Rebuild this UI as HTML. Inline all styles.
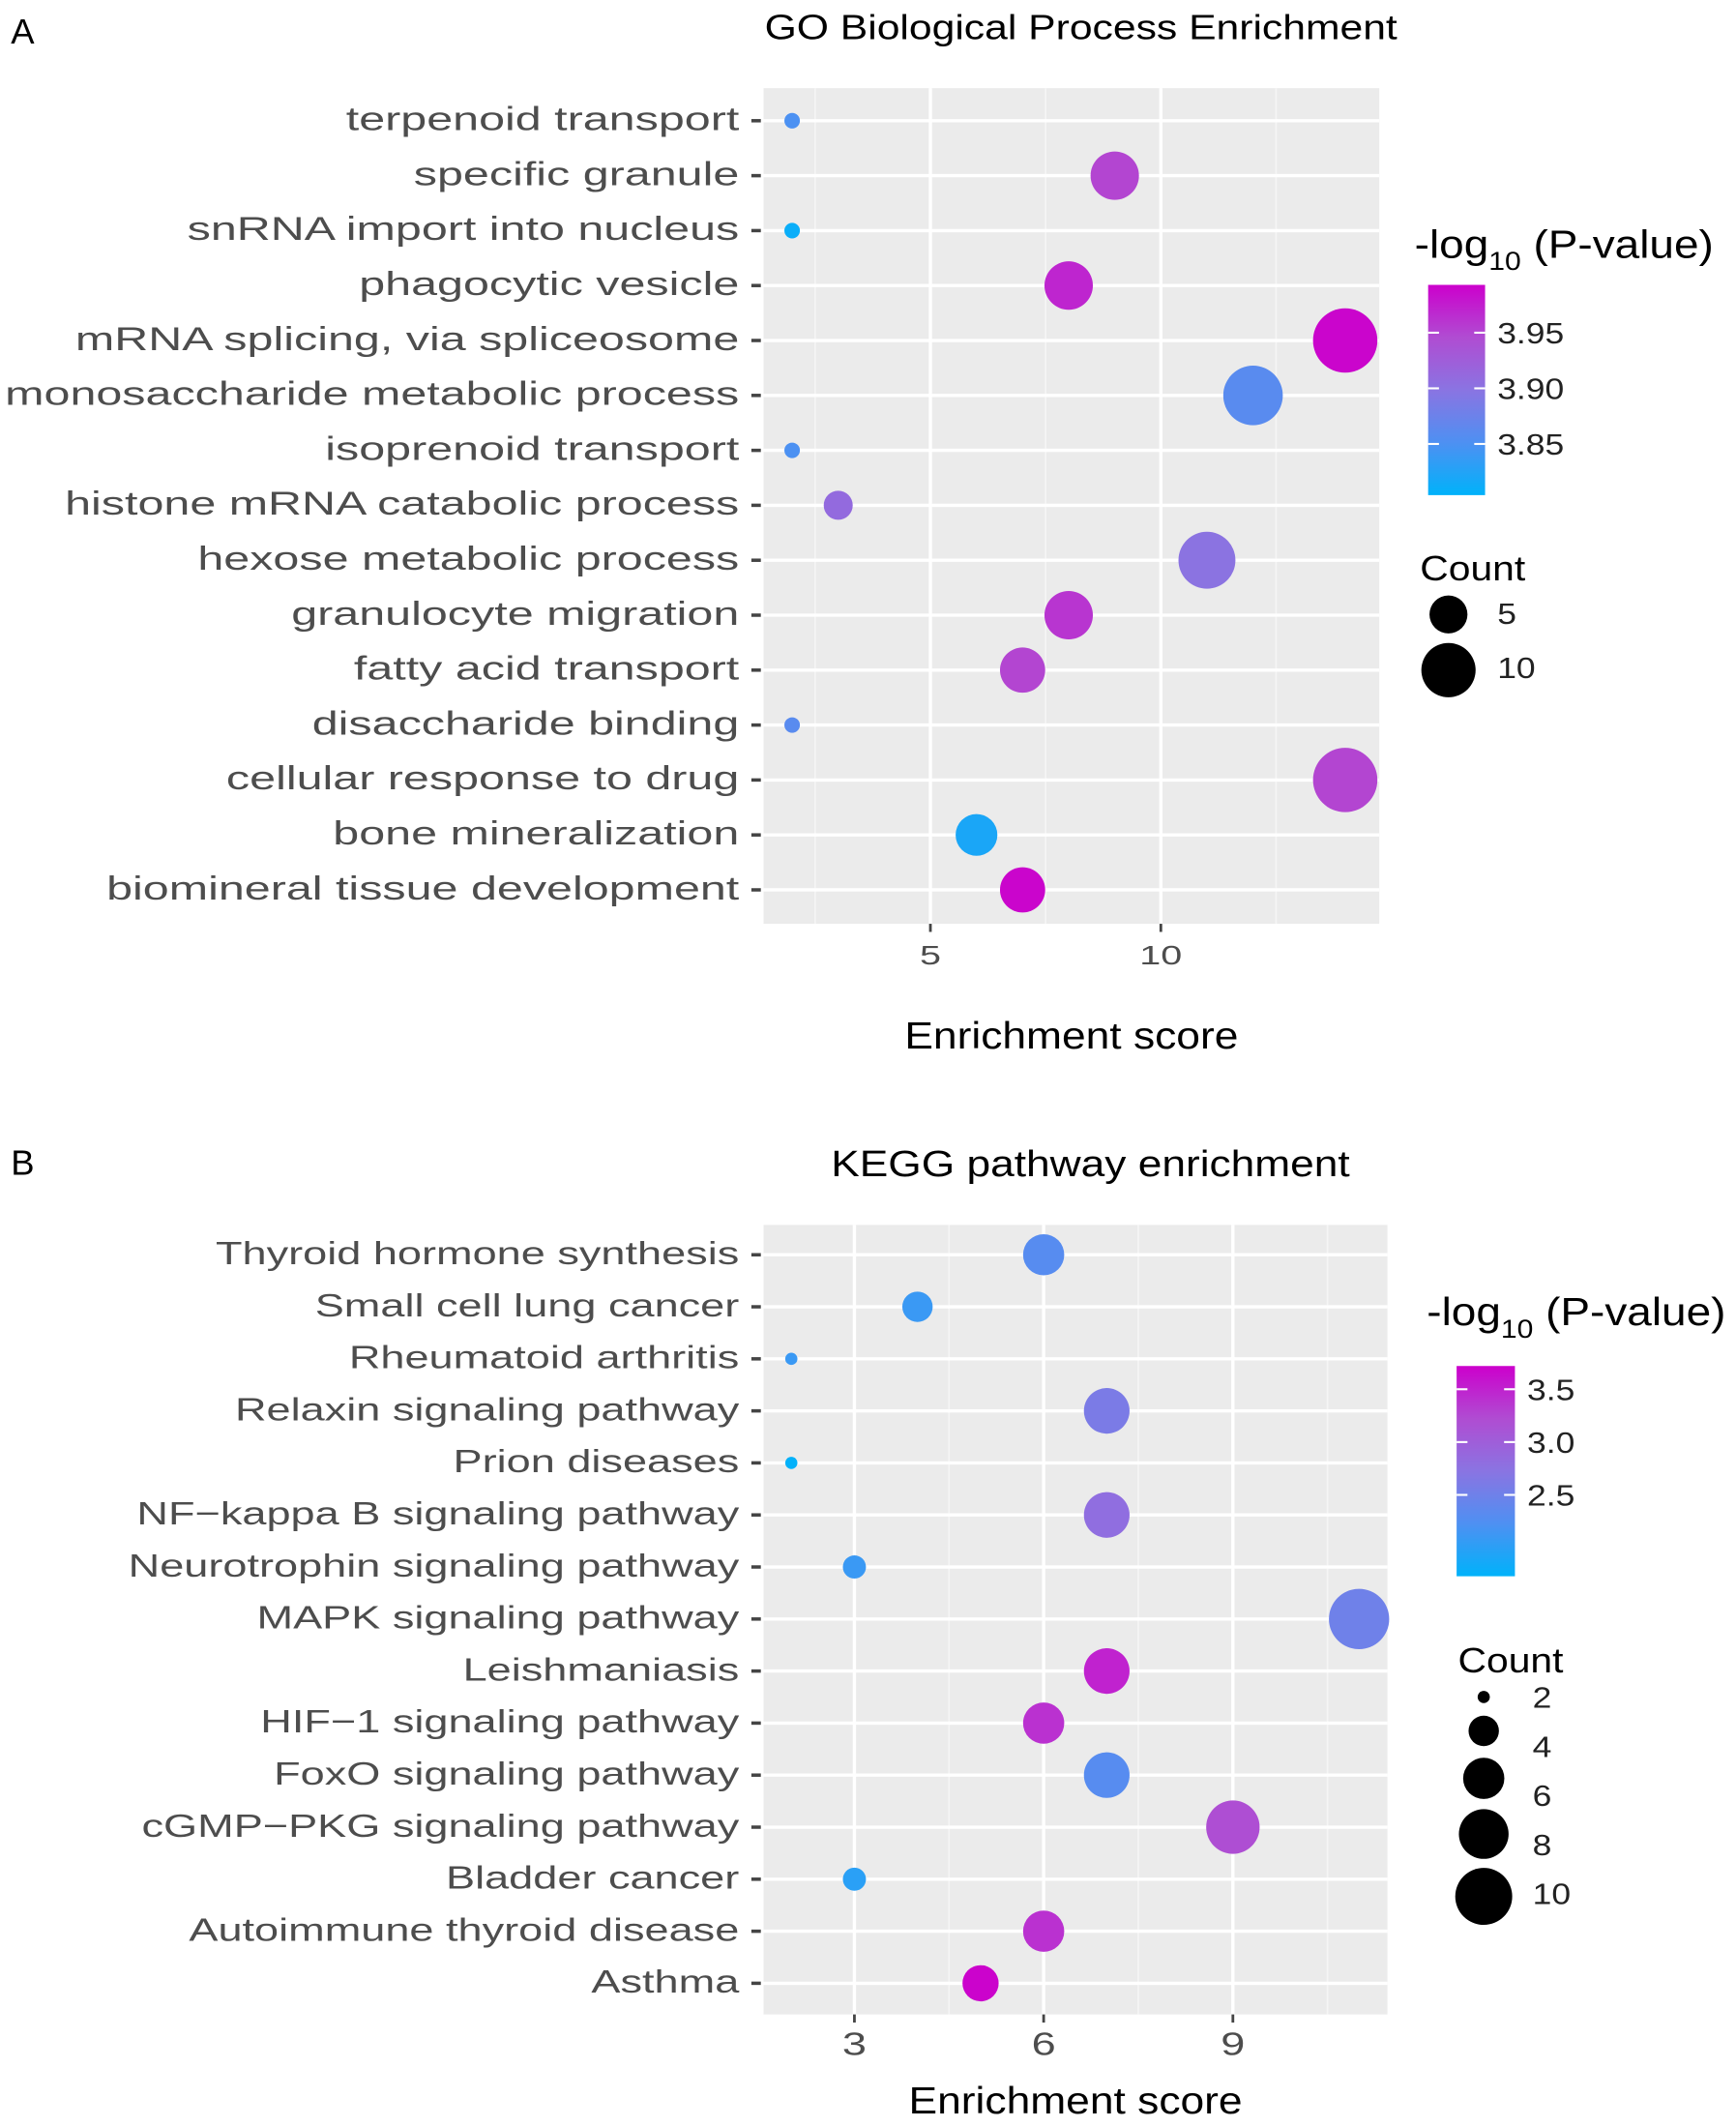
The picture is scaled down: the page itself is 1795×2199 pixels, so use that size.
<!DOCTYPE html>
<html><head><meta charset="utf-8"><style>
html,body{margin:0;padding:0;background:#fff}
svg{display:block;font-family:"Liberation Sans",Arial,sans-serif}
</style></head><body>
<svg id="fig" width="1795" height="2199" viewBox="0 0 1280 1568" preserveAspectRatio="none" xmlns="http://www.w3.org/2000/svg">
<defs>
<linearGradient id="gradA" x1="0" y1="1" x2="0" y2="0">
<stop offset="0" stop-color="#00B2FA"/><stop offset="0.25" stop-color="#4E90F2"/><stop offset="0.5" stop-color="#8A74E2"/><stop offset="0.75" stop-color="#B04CD2"/><stop offset="1" stop-color="#CC00CC"/>
</linearGradient>
<linearGradient id="gradB" x1="0" y1="1" x2="0" y2="0">
<stop offset="0" stop-color="#00B2FA"/><stop offset="0.25" stop-color="#4E90F2"/><stop offset="0.5" stop-color="#8A74E2"/><stop offset="0.75" stop-color="#B04CD2"/><stop offset="1" stop-color="#CC00CC"/>
</linearGradient>
</defs>
<g id="A"></g>
<g id="B"></g>
</svg>
<script>
// Panel A data
const catsA = ["terpenoid transport","specific granule","snRNA import into nucleus","phagocytic vesicle","mRNA splicing, via spliceosome","monosaccharide metabolic process","isoprenoid transport","histone mRNA catabolic process","hexose metabolic process","granulocyte migration","fatty acid transport","disaccharide binding","cellular response to drug","bone mineralization","biomineral tissue development"];
const scoreA = [2,9,2,8,14,12,2,3,11,8,7,2,14,6,7];
const countA = [1,8,1,8,14,12,1,3,11,8,7,1,14,6,7];
const pvalA = [3.85,3.95,3.81,3.97,3.99,3.86,3.85,3.91,3.90,3.96,3.95,3.86,3.95,3.82,3.99];
const xTicksA = [5,10];
const colorTicksA = [3.95,3.90,3.85];
const sizeTicksA = [5,10];
// Panel B data
const catsB = ["Thyroid hormone synthesis","Small cell lung cancer","Rheumatoid arthritis","Relaxin signaling pathway","Prion diseases","NF\u2212kappa B signaling pathway","Neurotrophin signaling pathway","MAPK signaling pathway","Leishmaniasis","HIF\u22121 signaling pathway","FoxO signaling pathway","cGMP\u2212PKG signaling pathway","Bladder cancer","Autoimmune thyroid disease","Asthma"];
const scoreB = [6,4,2,7,2,7,3,11,7,6,7,9,3,6,5];
const countB = [6,4,2,7,2,7,3,11,7,6,7,9,3,6,5];
const pvalB = [2.3,2.1,2.1,2.6,1.75,2.8,2.1,2.5,3.5,3.4,2.3,3.2,2.0,3.4,3.7];
const xTicksB = [3,6,9];
const colorTicksB = [3.5,3.0,2.5];
const sizeTicksB = [2,4,6,8,10];

const NS="http://www.w3.org/2000/svg";
function mk(parent,tag,attrs,txt){const e=document.createElementNS(NS,tag);for(const k in attrs)e.setAttribute(k,attrs[k]);if(txt!==undefined)e.textContent=txt;parent.appendChild(e);return e;}
const stops=[[0,[0,178,250]],[0.25,[78,144,242]],[0.5,[138,116,226]],[0.75,[176,76,210]],[1,[204,0,204]]];
function colorAt(t){t=Math.max(0,Math.min(1,t));for(let i=1;i<stops.length;i++){if(t<=stops[i][0]){const a=stops[i-1],b=stops[i];const f=(t-a[0])/(b[0]-a[0]);const c=a[1].map((v,j)=>Math.round(v+(b[1][j]-v)*f));return `rgb(${c})`;}}return "rgb(204,0,204)";}

function panel(cfg){
  const g=document.getElementById(cfg.id);
  const {L,R,T,Bt,xmin,xmax,y0,dy}=cfg;
  const xs=v=>L+(v-xmin)/(xmax-xmin)*(R-L);
  const ys=i=>y0+i*dy;
  const lt=mk(g,'text',{x:cfg.letterX,y:cfg.letterY,'font-size':26,fill:'#000'},cfg.letter);
  
  
  const title=mk(g,'text',{x:0,y:0,'font-size':cfg.titleSize,fill:'#000','text-anchor':'middle',transform:`translate(${cfg.titleX},${cfg.titleY}) scale(${cfg.sTitle},1)`},cfg.title);
  
  
  const bg=mk(g,'rect',{x:L,y:T,width:R-L,height:Bt-T,fill:'#EBEBEB'});
  
  
  cfg.minor.forEach(v=>mk(g,'line',{x1:xs(v),x2:xs(v),y1:T,y2:Bt,stroke:'#F5F5F5','stroke-width':1.2}));
  cfg.xTicks.forEach(v=>{
    mk(g,'line',{x1:xs(v),x2:xs(v),y1:T,y2:Bt,stroke:'#fff','stroke-width':2.4});
    mk(g,'line',{x1:xs(v),x2:xs(v),y1:Bt,y2:Bt+6,stroke:'#444','stroke-width':2});
    const t=mk(g,'text',{x:0,y:0,'font-size':cfg.tickSize,fill:'#4D4D4D','text-anchor':'middle',transform:`translate(${xs(v)},${Bt+cfg.tickDy}) scale(${cfg.sx},1)`},String(v));
    
    
  });
  cfg.cats.forEach((c,i)=>{
    mk(g,'line',{x1:L,x2:R,y1:ys(i),y2:ys(i),stroke:'#fff','stroke-width':2.4});
    mk(g,'line',{x1:L-9,x2:L-2,y1:ys(i),y2:ys(i),stroke:'#444','stroke-width':2.5});
    const t=mk(g,'text',{x:0,y:0,'font-size':cfg.labSize,fill:'#4D4D4D','text-anchor':'end',transform:`translate(${L-18},${ys(i)+7}) scale(${cfg.sx},1)`},c);
    
    
  });
  const [pmin,pmax]=cfg.pRange;
  cfg.cats.forEach((c,i)=>{
    const r=Math.sqrt(Math.max(cfg.sa+cfg.sb*cfg.count[i],14));
    const p=mk(g,'circle',{cx:xs(cfg.score[i]),cy:ys(i),r:r,fill:colorAt((cfg.pval[i]-pmin)/(pmax-pmin))});
    
    
  });
  const xt=mk(g,'text',{x:0,y:0,'font-size':28,fill:'#000','text-anchor':'middle',transform:`translate(${(L+R)/2},${cfg.xTitleY}) scale(${cfg.sxT},1)`},'Enrichment score');
  
  
  const lg=cfg.leg;
  const ct=mk(g,'text',{x:0,y:0,'font-size':29,fill:'#000',transform:`translate(${lg.titleX},${lg.titleY}) scale(${cfg.sxT},1)`});
  
  
  ct.innerHTML='-log<tspan font-size="19" dy="9">10</tspan><tspan dy="-9"> (P-value)</tspan>';
  const bar=mk(g,'rect',{x:lg.barX,y:lg.barT,width:lg.barW,height:lg.barB-lg.barT,fill:`url(#${cfg.grad})`});
  
  
  const py=v=>lg.barB-(v-pmin)/(pmax-pmin)*(lg.barB-lg.barT);
  cfg.cTicks.forEach(v=>{
    mk(g,'line',{x1:lg.barX,x2:lg.barX+8,y1:py(v),y2:py(v),stroke:'#fff','stroke-width':1.5});
    mk(g,'line',{x1:lg.barX+lg.barW-8,x2:lg.barX+lg.barW,y1:py(v),y2:py(v),stroke:'#fff','stroke-width':1.5});
    const t=mk(g,'text',{x:0,y:0,'font-size':22,fill:'#222',transform:`translate(${lg.barX+lg.barW+9},${py(v)+8}) scale(1.15,1)`},v.toFixed(cfg.cDec));
    
    
  });
  const st=mk(g,'text',{x:0,y:0,'font-size':26,fill:'#000',transform:`translate(${lg.sTitleX},${lg.sTitleY}) scale(1.12,1)`},'Count');
  
  
  cfg.sTicks.forEach((v,i)=>{
    const y=lg.sY0+i*lg.sDy;
    const c=mk(g,'circle',{cx:lg.sX,cy:lg.circY[i],r:Math.sqrt(Math.max(cfg.sa+cfg.sb*v,14)),fill:'#000'});
    
    
    const t=mk(g,'text',{x:0,y:0,'font-size':22,fill:'#222',transform:`translate(${lg.sX+36},${y+8}) scale(1.15,1)`},String(v));
    
    
  });
}
panel({id:'A',letter:'A',letterX:8,letterY:32,title:'GO Biological Process Enrichment',titleX:797,titleY:29,titleSize:26,sTitle:1.17,sx:1.41,sxT:1.13,
  L:563,R:1017,T:65,Bt:681,xmin:1.38,xmax:14.74,y0:89,dy:40.5,minor:[2.5,7.5,12.5],xTicks:xTicksA,tickDy:30,tickSize:20,labSize:24.5,
  cats:catsA,score:scoreA,count:countA,pval:pvalA,sa:-8,sb:40.8,xTitleY:773,pRange:[3.804,3.993],cTicks:colorTicksA,cDec:2,sTicks:sizeTicksA,grad:'gradA',
  leg:{titleX:1043,titleY:190,barX:1053,barW:42,barT:210,barB:365,sTitleX:1047,sTitleY:428,sX:1068,sY0:452,sDy:40,circY:[453,494]}});
panel({id:'B',letter:'B',letterX:8,letterY:866,title:'KEGG pathway enrichment',titleX:804,titleY:867,titleSize:27,sTitle:1.17,sx:1.34,sxT:1.13,
  L:563,R:1023,T:903,Bt:1485,xmin:1.56,xmax:11.45,y0:925,dy:38.36,minor:[4.5,7.5,10.5],xTicks:xTicksB,tickDy:30,tickSize:24,labSize:24,
  cats:catsB,score:scoreB,count:countB,pval:pvalB,sa:-85,sb:52.6,xTitleY:1558,pRange:[1.73,3.72],cTicks:colorTicksB,cDec:1,sTicks:sizeTicksB,grad:'gradB',
  leg:{titleX:1052,titleY:977,barX:1074,barW:43,barT:1007,barB:1162,sTitleX:1075,sTitleY:1233,sX:1094,sY0:1251,sDy:36.2,circY:[1251,1276,1311,1352,1398]}});
</script>
</body></html>
